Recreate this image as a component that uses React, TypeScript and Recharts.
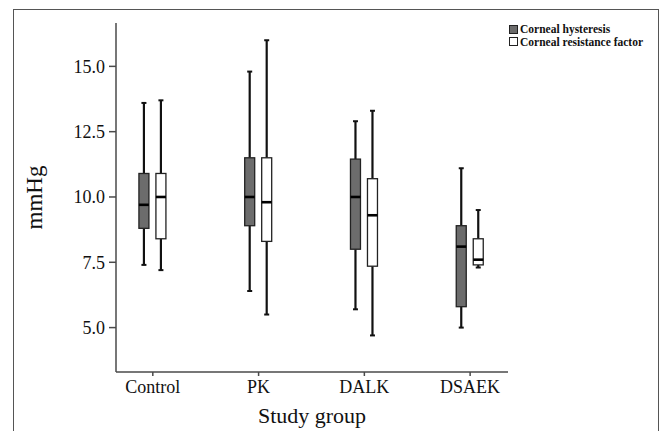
import { ComposedChart, Bar, XAxis, YAxis, Legend } from 'recharts';

// study groups and their x positions
const groups = ['Control', 'PK', 'DALK', 'DSAEK'];
const groupPos = [1, 2, 3, 4];

// corneal hysteresis (mmHg)
const chMin = [7.4, 6.4, 5.7, 5.0];
const chQ1 = [8.8, 8.9, 8.0, 5.8];
const chMed = [9.7, 10.0, 10.0, 8.1];
const chQ3 = [10.9, 11.5, 11.45, 8.9];
const chMax = [13.6, 14.8, 12.9, 11.1];

// corneal resistance factor (mmHg)
const crfMin = [7.2, 5.5, 4.7, 7.3];
const crfQ1 = [8.4, 8.3, 7.35, 7.4];
const crfMed = [10.0, 9.8, 9.3, 7.6];
const crfQ3 = [10.9, 11.5, 10.7, 8.4];
const crfMax = [13.7, 16.0, 13.3, 9.5];

const yTicks = [5, 7.5, 10, 12.5, 15];

const series = [
    { key: 'ch', name: 'Corneal hysteresis', fill: '#6c6c6c' },
    { key: 'crf', name: 'Corneal resistance factor', fill: '#ffffff' },
];

const rows = groups.map((g, i) => ({
    group: g,
    pos: groupPos[i],
    ch: [chMin[i], chMax[i]],
    chBox: { min: chMin[i], q1: chQ1[i], med: chMed[i], q3: chQ3[i], max: chMax[i] },
    crf: [crfMin[i], crfMax[i]],
    crfBox: { min: crfMin[i], q1: crfQ1[i], med: crfMed[i], q3: crfQ3[i], max: crfMax[i] },
}));

const FONT = '"Liberation Serif", "Times New Roman", serif';
const AXIS = '#4a4a4a';

// the bar spans min..max; the rest of the box is placed along that same scaled span
const boxShape = (boxKey: string, fill: string) => (props: any) => {
    const { x, y, width, height, payload } = props;
    const s = payload[boxKey];
    const top = Math.min(y, y + height);
    const bot = Math.max(y, y + height);
    const py = (v: number) => bot - ((v - s.min) / (s.max - s.min)) * (bot - top);
    const cx = x + width / 2;
    const cap = 2.5;
    return (
        <g>
            <line x1={cx} x2={cx} y1={py(s.max)} y2={py(s.q3)} stroke="#111" strokeWidth={2.2} />
            <line x1={cx} x2={cx} y1={py(s.q1)} y2={py(s.min)} stroke="#111" strokeWidth={2.2} />
            <line x1={cx - cap} x2={cx + cap} y1={py(s.max)} y2={py(s.max)} stroke="#111" strokeWidth={2} />
            <line x1={cx - cap} x2={cx + cap} y1={py(s.min)} y2={py(s.min)} stroke="#111" strokeWidth={2} />
            <rect x={x} y={py(s.q3)} width={width} height={py(s.q1) - py(s.q3)} fill={fill} stroke="#222" strokeWidth={1.3} />
            <line x1={x} x2={x + width} y1={py(s.med)} y2={py(s.med)} stroke="#000" strokeWidth={2.6} />
        </g>
    );
};

const LegendBox = () => (
    <div style={{ fontFamily: FONT, fontSize: 11.5, fontWeight: 700, color: '#111', lineHeight: '12.5px' }}>
        {series.map((s) => (
            <div key={s.key} style={{ display: 'flex', alignItems: 'center', whiteSpace: 'nowrap' }}>
                <span style={{ display: 'inline-block', width: 7, height: 7, background: s.fill, border: '1px solid #222', marginRight: 2 }} />
                {s.name}
            </div>
        ))}
    </div>
);

const tickStyle = { fill: '#111', fontSize: 18, fontFamily: FONT };

export default function App() {
    return (
        <div style={{ position: 'absolute', left: 0, top: 0, width: 661, height: 431, background: '#fff', overflow: 'hidden', fontFamily: FONT }}>
            <div style={{ position: 'absolute', left: 13, top: 9, width: 644, height: 440, borderTop: '1.5px solid #555', borderLeft: '1.5px solid #555', borderRight: '1.5px solid #555' }} />
            <ComposedChart
                width={661}
                height={431}
                data={rows}
                margin={{ top: 23, right: 153, bottom: 29, left: 16 }}
                barGap={7}
                style={{ position: 'absolute', left: 0, top: 0, fontFamily: FONT }}
            >
                <XAxis
                    dataKey="pos"
                    type="number"
                    domain={[0.652, 4.358]}
                    ticks={groupPos}
                    tickFormatter={(v) => groups[v - 1]}
                    height={30}
                    tickSize={4}
                    tickMargin={4}
                    stroke={AXIS}
                    strokeWidth={1.5}
                    fontSize={18}
                    fontFamily={FONT}
                    tick={tickStyle}
                    label={{ value: 'Study group', position: 'bottom', offset: 5, fill: '#111', fontSize: 22, fontFamily: FONT }}
                />
                <XAxis xAxisId="top" orientation="top" type="number" domain={[0.652, 4.358]} height={0} tick={false} tickLine={false} stroke={AXIS} strokeWidth={1.5} />
                <YAxis
                    type="number"
                    domain={[3.3, 16.66]}
                    ticks={yTicks}
                    tickFormatter={(v) => v.toFixed(1)}
                    width={100}
                    tickSize={7}
                    tickMargin={4}
                    stroke={AXIS}
                    strokeWidth={1.5}
                    fontSize={18}
                    fontFamily={FONT}
                    tick={tickStyle}
                    label={{ value: 'mmHg', angle: -90, position: 'insideLeft', offset: 18, fill: '#111', fontSize: 23, fontFamily: FONT, style: { textAnchor: 'middle' } }}
                />
                <YAxis yAxisId="right" orientation="right" type="number" domain={[3.3, 16.66]} width={0} tick={false} tickLine={false} stroke={AXIS} strokeWidth={1.5} />
                <Legend
                    layout="vertical"
                    align="center"
                    verticalAlign="middle"
                    content={() => <LegendBox />}
                    wrapperStyle={{ left: 509, top: 23, width: 150 }}
                />
                {series.map((s) => (
                    <Bar
                        key={s.key}
                        dataKey={s.key}
                        name={s.name}
                        barSize={10}
                        fill={s.fill}
                        shape={boxShape(s.key + 'Box', s.fill)}
                        isAnimationActive={false}
                    />
                ))}
            </ComposedChart>
        </div>
    );
}
